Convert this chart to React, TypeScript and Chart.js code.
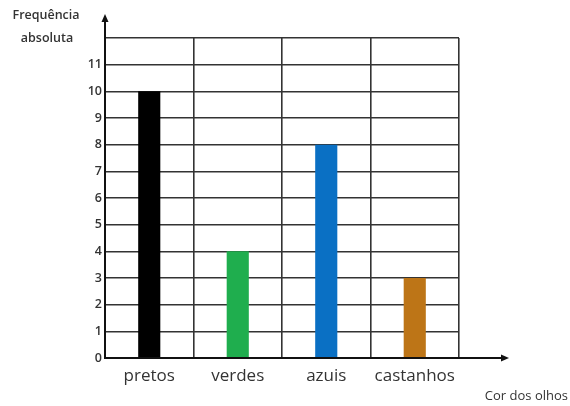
import React, { useEffect, useRef } from "react";
import { Chart, registerables } from "chart.js";

Chart.register(...registerables);

const categories = ["pretos", "verdes", "azuis", "castanhos"];
const frequencies = [10, 4, 8, 3];
const barColors = ["#000000", "#1fae4e", "#0a70c4", "#bd7517"];
const yTitleLines = ["Frequência", "absoluta"];
const xTitle = "Cor dos olhos";
const yMax = 12;

const FONT = "'Open Sans', 'Liberation Sans', sans-serif";

const decorPlugin = {
  id: "decor",
  afterDraw(chart: any) {
    const { ctx, chartArea } = chart;
    const { left, right, top, bottom } = chartArea;
    ctx.save();
    ctx.strokeStyle = "#111";
    ctx.fillStyle = "#111";
    ctx.lineWidth = 2;
    // y axis with arrow
    ctx.beginPath();
    ctx.moveTo(left, bottom + 1);
    ctx.lineTo(left, top - 20);
    ctx.stroke();
    ctx.beginPath();
    ctx.moveTo(left, top - 24);
    ctx.lineTo(left - 3.5, top - 16);
    ctx.lineTo(left + 3.5, top - 16);
    ctx.closePath();
    ctx.fill();
    // x axis with arrow
    ctx.beginPath();
    ctx.moveTo(left - 1, bottom);
    ctx.lineTo(right + 45, bottom);
    ctx.stroke();
    ctx.beginPath();
    ctx.moveTo(right + 50, bottom);
    ctx.lineTo(right + 42, bottom - 3.5);
    ctx.lineTo(right + 42, bottom + 3.5);
    ctx.closePath();
    ctx.fill();
    // titles
    ctx.fillStyle = "#333";
    ctx.font = `600 12.5px ${FONT}`;
    ctx.textAlign = "center";
    ctx.textBaseline = "middle";
    ctx.fillText(yTitleLines[0], 46, 15);
    ctx.fillText(yTitleLines[1], 47, 38);
    ctx.font = `13px ${FONT}`;
    ctx.textAlign = "right";
    ctx.fillText(xTitle, 568, 396);
    ctx.restore();
  },
};

export default function App() {
  const ref = useRef<HTMLCanvasElement>(null);
  useEffect(() => {
    if (!ref.current) return;
    const chart = new Chart(ref.current, {
      type: "bar",
      data: {
        labels: categories,
        datasets: [
          {
            data: frequencies,
            backgroundColor: barColors,
            barPercentage: 0.25,
            categoryPercentage: 1,
          },
        ],
      },
      options: {
        responsive: false,
        animation: false,
        devicePixelRatio: 1,
        layout: { padding: { left: 0, right: 111, top: 38, bottom: 0 } },
        plugins: { legend: { display: false }, tooltip: { enabled: false } },
        scales: {
          x: {
            grid: { offset: true, color: "#333", lineWidth: 1.6, drawTicks: false },
            border: { display: false },
            ticks: {
              color: "#333",
              font: { family: FONT, size: 17 },
              padding: 8,
            },
            afterFit(scale: any) {
              scale.height = 48;
            },
          },
          y: {
            min: 0,
            max: yMax,
            grid: { color: "#333", lineWidth: 1.6, drawTicks: false },
            border: { display: false },
            ticks: {
              stepSize: 1,
              color: "#333",
              font: { family: FONT, size: 12.5, weight: "600" },
              padding: 3,
              callback: (v: any) => (v === yMax ? "" : String(v)),
            },
            afterFit(scale: any) {
              scale.width = 105;
            },
          },
        },
      },
      plugins: [decorPlugin],
    });
    return () => chart.destroy();
  }, []);
  return (
    <div style={{ position: "fixed", left: 0, top: 0, width: 570, height: 406, background: "#fff" }}>
      <canvas ref={ref} width={570} height={406} />
    </div>
  );
}
